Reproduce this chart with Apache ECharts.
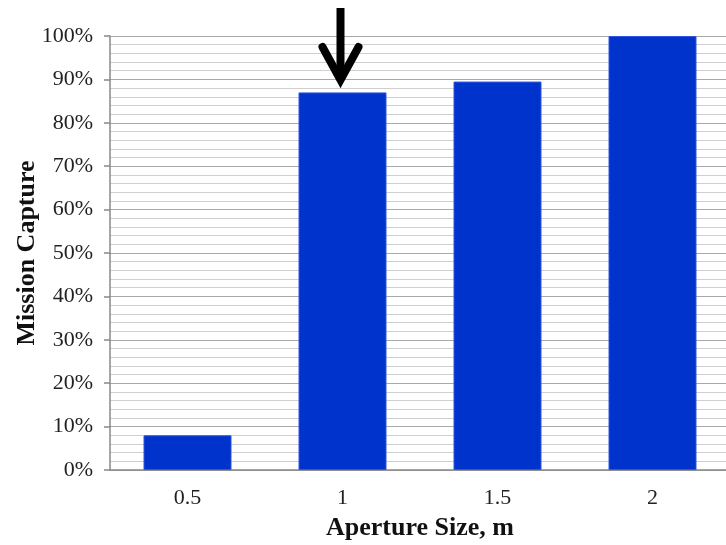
<!DOCTYPE html>
<html>
<head>
<meta charset="utf-8">
<script src="https://cdn.jsdelivr.net/npm/echarts@6/dist/echarts.min.js"></script>
<style>
html,body{margin:0;padding:0;background:#fff;}
#c{width:726px;height:545px;}
</style>
</head>
<body>
<div id="c"></div>
<script>
const categories = ['0.5', '1', '1.5', '2'];
const missionCapture = [8, 87, 89.5, 100];
const arrowCategory = '1';
const arrowTipValue = 89.4;

const serif = '"Liberation Serif", "Times New Roman", serif';
const chart = echarts.init(document.getElementById('c'));
chart.setOption({
  animation: false,
  grid: { left: 110, top: 36, width: 620, height: 434, outerBoundsMode: 'none', containLabel: false },
  xAxis: {
    type: 'category',
    data: categories,
    name: 'Aperture Size, m',
    nameLocation: 'middle',
    nameGap: 45,
    nameTextStyle: { fontFamily: serif, fontWeight: 'bold', fontSize: 26, color: '#111' },
    axisLine: { lineStyle: { color: '#888', width: 1.5 } },
    axisTick: { show: false },
    axisLabel: { fontFamily: serif, fontSize: 22, color: '#222', margin: 17 }
  },
  yAxis: {
    type: 'value',
    min: 0, max: 100, interval: 10,
    name: 'Mission Capture',
    nameLocation: 'middle',
    nameGap: 70,
    nameMoveOverlap: false,
    nameTextStyle: { fontFamily: serif, fontWeight: 'bold', fontSize: 26, color: '#111' },
    axisLine: { show: true, lineStyle: { color: '#888', width: 1.5 } },
    axisTick: { show: true, length: 6, lineStyle: { color: '#888', width: 1.5 } },
    axisLabel: { fontFamily: serif, fontSize: 22, color: '#222', margin: 17, formatter: '{value}%' },
    splitLine: { show: true, lineStyle: { color: '#a8a8a8', width: 1.2 } },
    minorTick: { show: false, splitNumber: 5 },
    minorSplitLine: { show: true, lineStyle: { color: '#cfcfcf', width: 1.2 } }
  },
  series: [{
    type: 'bar',
    data: missionCapture,
    barWidth: 88,
    itemStyle: { color: '#0033cc', borderColor: '#3355dd', borderWidth: 1 }
  }]
});

const tip = chart.convertToPixel({ gridIndex: 0 }, [arrowCategory, arrowTipValue]);
const tx = tip[0] - 2, ty = tip[1];
chart.setOption({
  graphic: [
    { type: 'line', shape: { x1: tx, y1: ty - 74, x2: tx, y2: ty - 4 },
      style: { stroke: '#000', lineWidth: 8 } },
    { type: 'polyline', shape: { points: [[tx - 18, ty - 35], [tx, ty - 2], [tx + 18, ty - 35]] },
      style: { stroke: '#000', lineWidth: 8, fill: null, lineCap: 'round', lineJoin: 'miter' } }
  ]
});
</script>
</body>
</html>
